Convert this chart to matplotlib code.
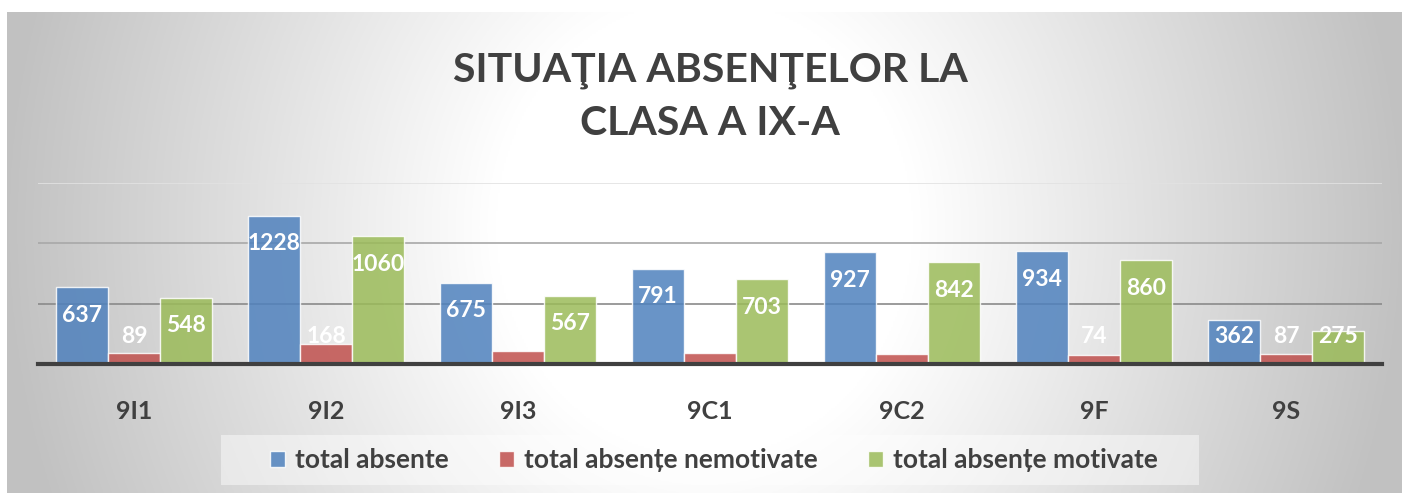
import numpy as np
import matplotlib
matplotlib.use("Agg")
import matplotlib.pyplot as plt
from matplotlib.patches import Rectangle

plt.rcParams['font.family'] = ['Lato', 'DejaVu Sans']

categories = ["9I1", "9I2", "9I3", "9C1", "9C2", "9F", "9S"]
total_absente = [637, 1228, 675, 791, 927, 934, 362]
total_nemotivate = [89, 168, 108, 88, 85, 74, 87]
total_motivate = [548, 1060, 567, 703, 842, 860, 275]
show_nemotivate_label = [True, True, False, False, False, True, True]
series_names = ["total absente", "total absențe nemotivate", "total absențe motivate"]
title_text = "SITUAŢIA ABSENŢELOR LA\nCLASA A IX-A"

W, H = 1403, 494
fig = plt.figure(figsize=(W / 100, H / 100), dpi=100)
fig.patch.set_facecolor("white")

# background frame with gradient
bg = fig.add_axes([7 / W, 1 / H, (1402 - 7) / W, (493 - 12) / H])
bg.set_axis_off()
nx, ny = 700, 240
xx, yy = np.meshgrid(np.linspace(0, 1, nx), np.linspace(0, 1, ny))
t = np.sqrt(((xx - 0.5) / 0.5) ** 2 + ((yy - 0.55) / 1.6) ** 2)
g = 1 - 0.24 * np.clip((t - 0.3) / 0.7, 0, 1)
img = np.dstack([g, g, g])
bg.imshow(img, extent=[0, 1, 0, 1], aspect="auto", origin="lower", zorder=0)
bg.set_xlim(0, 1)
bg.set_ylim(0, 1)
# legend box
bg.add_patch(Rectangle(((221 - 7) / 1395, (493 - 485) / 481), (1199 - 221) / 1395, 50 / 481,
                       facecolor="white", alpha=0.45, edgecolor="none", zorder=1))

ax = fig.add_axes([38 / W, (H - 364) / H, (1382 - 38) / W, (364 - 183) / H])
ax.set_facecolor("none")
ax.set_xlim(-0.5, len(categories) - 0.5)
ax.set_ylim(0, 1500)

x = np.arange(len(categories))
w = 0.271
colors = ["#4F81BD", "#C0504D", "#9BBB59"]
series = [total_absente, total_nemotivate, total_motivate]

for yv, c in [(500, "#8a8a8a"), (1000, "#a8a8a8"), (1500, "#e2e2e2")]:
    ax.axhline(yv, color=c, lw=1.2, zorder=1)

for k, (vals, c) in enumerate(zip(series, colors)):
    ax.bar(x + (k - 1) * w, vals, width=w, color=c, alpha=0.85,
           edgecolor=(1, 1, 1, 0.6), linewidth=1, zorder=2, label=series_names[k])
    for i, v in enumerate(vals):
        if k == 1 and not show_nemotivate_label[i]:
            continue
        ly = max(v - 232, 224)
        ax.text(x[i] + (k - 1) * w, ly, str(v), ha="center", va="center",
                color="white", fontsize=16.5, fontweight="bold", zorder=3)

for s in ["top", "left", "right"]:
    ax.spines[s].set_visible(False)
ax.spines["bottom"].set_color("#404040")
ax.spines["bottom"].set_linewidth(3)
ax.spines["bottom"].set_zorder(4)
ax.set_yticks([])
ax.set_xticks(x)
ax.set_xticklabels(categories, fontsize=18, fontweight="bold", color="#404040")
ax.tick_params(axis="x", length=0, pad=26)

fig.text(710 / W, 1 - 97 / H, title_text, ha="center", va="center", fontsize=29.5,
         fontweight="bold", color="#404040", linespacing=1.52)

leg = ax.legend(loc="center", bbox_to_anchor=(714 / W, 1 - 460 / H), bbox_transform=fig.transFigure,
                ncol=3, frameon=False, fontsize=19, handlelength=0.55, handleheight=0.55,
                columnspacing=1.9, handletextpad=0.4)
for tx in leg.get_texts():
    tx.set_color("#404040")
    tx.set_fontweight("bold")

fig.savefig("out.png", dpi=100)
